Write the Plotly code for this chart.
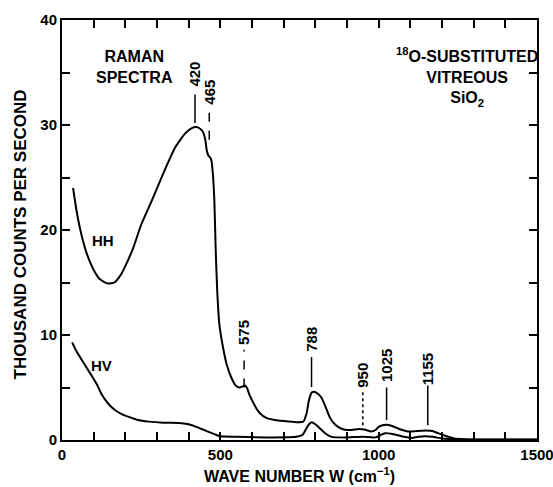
import plotly.graph_objects as go

# HH polarized spectrum (wave number cm^-1, thousand counts/s)
hh_x = [35, 45, 55, 66, 80, 100, 120, 145, 165, 185, 205, 225, 250, 285, 320, 358, 389, 410, 424, 438,
        446, 453, 457, 462, 468, 472, 476, 481, 485, 490, 497, 508, 520, 534, 548, 560, 570, 578, 585,
        592, 600, 612, 625, 645, 672, 700, 740, 762, 772, 780, 788, 796, 808, 820, 833, 845, 858, 872,
        890, 910, 938, 955, 977, 990, 1000, 1012, 1025, 1040, 1061, 1080, 1093, 1120, 1150, 1170, 1187,
        1210, 1238, 1270, 1350, 1500]
hh_y = [24.0, 22.0, 20.4, 19.0, 17.6, 16.2, 15.3, 14.9, 15.0, 15.7, 16.9, 18.3, 20.5, 22.9, 25.4, 27.9,
        29.2, 29.7, 29.8, 29.6, 29.3, 28.5, 27.6, 27.1, 26.9, 26.6, 25.5, 22.9, 18.5, 14.3, 11.0, 8.9,
        7.2, 6.0, 5.2, 5.0, 5.1, 5.2, 4.9, 4.3, 3.8, 3.1, 2.55, 2.1, 1.9, 1.8, 1.7, 1.75, 2.5, 3.8, 4.5,
        4.6, 4.4, 4.0, 3.1, 2.2, 1.6, 1.25, 1.0, 0.95, 1.05, 1.0, 0.8, 0.95, 1.25, 1.4, 1.45, 1.35, 1.1,
        0.9, 0.8, 0.85, 0.9, 0.85, 0.65, 0.4, 0.15, 0.08, 0.05, 0.05]

# HV depolarized spectrum
hv_x = [32, 45, 69, 90, 110, 126, 145, 167, 190, 211, 240, 274, 320, 378, 400, 420, 445, 473, 490, 500,
        550, 650, 740, 760, 770, 780, 788, 800, 820, 835, 851, 900, 950, 990, 1005, 1020, 1040, 1061,
        1080, 1103, 1125, 1145, 1170, 1200, 1240, 1300, 1500]
hv_y = [9.3, 8.5, 7.3, 6.3, 5.3, 4.3, 3.5, 2.85, 2.45, 2.2, 1.9, 1.75, 1.65, 1.6, 1.5, 1.3, 1.0, 0.65,
        0.45, 0.35, 0.3, 0.25, 0.3, 0.5, 1.0, 1.5, 1.7, 1.5, 0.95, 0.55, 0.3, 0.25, 0.3, 0.25, 0.45, 0.65,
        0.6, 0.45, 0.3, 0.2, 0.3, 0.35, 0.3, 0.15, 0.06, 0.03, 0.03]

# Peak markers: label, x, text centre y, line bottom y, line top y, dash
peak_labels = ["420", "465", "575", "788", "950", "1025", "1155"]
peak_x = [420, 465, 575, 788, 950, 1025, 1155]
peak_text_y = [34.8, 33.1, 10.2, 9.6, 6.2, 7.1, 6.8]
peak_line_lo = [30.2, 28.6, 5.0, 5.05, 1.4, 1.9, 1.4]
peak_line_hi = [32.9, 31.7, 8.6, 7.9, 4.6, 5.0, 5.2]
peak_dash = ["solid", "dash", "dash", "solid", "dot", "solid", "solid"]

FONT = "Liberation Sans, Arial, sans-serif"

def bold(size):
    return dict(family=FONT, size=size, color="black", weight="bold")

fig = go.Figure()
fig.add_trace(go.Scatter(x=hh_x, y=hh_y, mode="lines", line=dict(color="black", width=2, shape="spline", smoothing=0.5),
                         showlegend=False, hoverinfo="skip"))
fig.add_trace(go.Scatter(x=hv_x, y=hv_y, mode="lines", line=dict(color="black", width=2, shape="spline", smoothing=0.6),
                         showlegend=False, hoverinfo="skip"))

for lab, px, ty, lo, hi, ds in zip(peak_labels, peak_x, peak_text_y, peak_line_lo, peak_line_hi, peak_dash):
    fig.add_shape(type="line", x0=px, x1=px, y0=lo, y1=hi, xref="x", yref="y",
                  line=dict(color="black", width=1.5, dash=ds))
    fig.add_annotation(x=px, y=ty, text=lab, textangle=-90, showarrow=False, font=bold(15))

fig.add_annotation(x=128, y=19.0, text="HH", showarrow=False, font=bold(15))
fig.add_annotation(x=126, y=7.1, text="HV", showarrow=False, font=bold(15))
fig.add_annotation(x=228, y=35.5, text="RAMAN<br>SPECTRA", showarrow=False, font=bold(16))
fig.add_annotation(x=1278, y=34.6, text="<sup>18</sup>O-SUBSTITUTED<br>VITREOUS<br>SiO<sub>2</sub>",
                   showarrow=False, font=bold(16))

# Axis titles
fig.add_annotation(xref="paper", yref="paper", x=-0.088, y=0.49, text="THOUSAND COUNTS PER SECOND",
                   textangle=-90, showarrow=False, xanchor="center", yanchor="middle", font=bold(17))
fig.add_annotation(xref="paper", yref="paper", x=0.501, y=-0.083, text="WAVE NUMBER W (cm<sup>−1</sup>)",
                   showarrow=False, xanchor="center", yanchor="middle", font=bold(16))

axis_common = dict(showgrid=False, zeroline=False, showline=True, linecolor="black", linewidth=2,
                   ticks="inside", ticklen=8, tickwidth=1.5, tickcolor="black", mirror="allticks",
                   automargin=False, tickfont=bold(15))

fig.update_xaxes(range=[0, 1500], dtick=500, tick0=0, ticklabeloverflow="allow",
                 minor=dict(dtick=100, ticks="inside", ticklen=8, tickwidth=1.5, tickcolor="black", showgrid=False),
                 **axis_common)
fig.update_yaxes(range=[0, 40], dtick=10, tick0=0, ticklabeloverflow="allow",
                 minor=dict(dtick=5, ticks="inside", ticklen=8, tickwidth=1.5, tickcolor="black", showgrid=False),
                 **axis_common)

fig.update_layout(width=553, height=487, margin=dict(l=62, r=16, t=20, b=47),
                  paper_bgcolor="white", plot_bgcolor="white",
                  font=dict(family=FONT, color="black"))

fig.write_html("out.html", config={"displayModeBar": False},
               post_script="document.body.style.margin='0';document.documentElement.style.overflow='hidden';")
